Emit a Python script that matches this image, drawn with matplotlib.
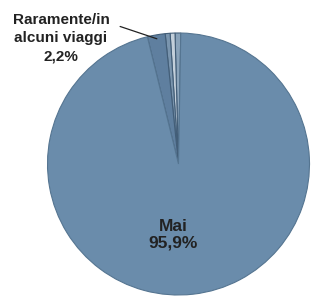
import numpy as np
import matplotlib
matplotlib.use("Agg")
import matplotlib.pyplot as plt

# Pie data (percent) - small slices first, then "Mai"
labels = ["Sempre", "Spesso", "A volte", "Raramente/in\nalcuni viaggi", "Mai"]
values = [0.7, 0.6, 0.6, 2.2, 95.9]
colors = ["#8aa3ba", "#c3cfda", "#7a95ae", "#5f7f9f", "#6a8cab"]

plt.rcParams['font.family'] = ['Liberation Sans', 'DejaVu Sans']

fig = plt.figure(figsize=(3.13, 2.98), dpi=100)
ax = fig.add_axes([0, 0, 1, 1])

cx, cy, r = 178.5, 134, 131
wedges, _ = ax.pie(values, colors=colors, startangle=89, counterclock=True,
                   center=(cx, cy), radius=r, frame=True,
                   wedgeprops=dict(edgecolor="#435e78", linewidth=0.8))
wedges[-1].set_edgecolor("#557591")
ax.set_xlim(0, 313)
ax.set_ylim(0, 298)
ax.set_aspect('equal')
ax.axis('off')

# label for Raramente slice
w = wedges[3]
ang = np.deg2rad((w.theta1 + w.theta2) / 2)
tip = (cx + 0.97 * r * np.cos(ang), cy + 0.97 * r * np.sin(ang))
ax.annotate(f"{labels[3]}\n{str(values[3]).replace('.', ',')}%", xy=tip,
            xytext=(61, 260), ha='center', va='center', fontsize=11,
            fontweight='bold', color="#222222", linespacing=1.38,
            arrowprops=dict(arrowstyle='-', color="#222222", lw=0.9,
                            shrinkA=6, shrinkB=0, relpos=(1.0, 0.8)))

# label for Mai
ax.text(173, 63, f"{labels[4]}\n{str(values[4]).replace('.', ',')}%",
        ha='center', va='center', fontsize=12.5, fontweight='bold',
        color="#222222", linespacing=1.1)

fig.savefig("out.png", dpi=100)
